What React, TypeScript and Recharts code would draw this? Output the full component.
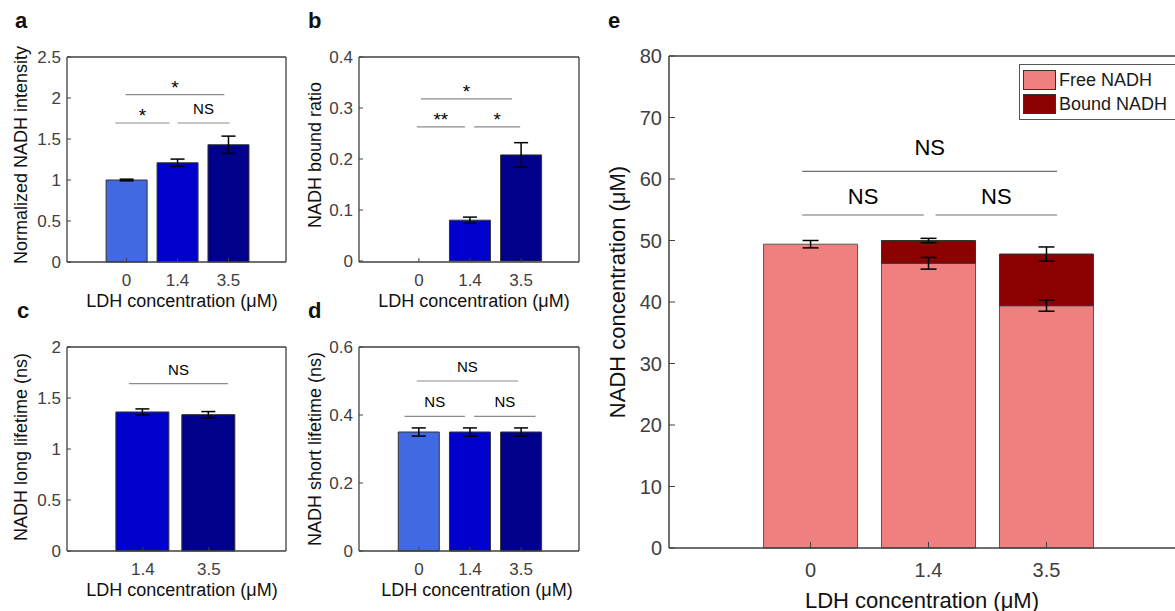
import React from 'react';
import {
  BarChart,
  Bar,
  XAxis,
  YAxis,
  ErrorBar,
  Cell,
  ReferenceLine,
  Legend,
} from 'recharts';

// LDH concentration categories (µM)
const concLabels = ['0', '1.4', '3.5'];
const concLabelsNoZero = ['1.4', '3.5'];

// panel a: normalized NADH intensity
const intensity = [1.0, 1.21, 1.43];
const intensityErr = [0.01, 0.045, 0.105];

// panel b: NADH bound ratio
const boundRatio = [0, 0.08, 0.208];
const boundRatioErr = [0.002, 0.006, 0.024];

// panel c: NADH long lifetime (ns), no 0 µM bar
const longLifetime = [1.363, 1.337];
const longLifetimeErr = [0.03, 0.03];

// panel d: NADH short lifetime (ns)
const shortLifetime = [0.35, 0.35, 0.35];
const shortLifetimeErr = [0.012, 0.012, 0.012];

// panel e: stacked free / bound NADH (µM)
const seriesNames = ['Free NADH', 'Bound NADH'];
const freeNadh = [49.4, 46.3, 39.4];
const freeNadhErr = [0.6, 0.95, 0.9];
const boundNadh = [0, 3.7, 8.4];
const totalNadhErr = [0, 0.35, 1.15];

const yTicksA = [0, 0.5, 1, 1.5, 2, 2.5];
const yTicksB = [0, 0.1, 0.2, 0.3, 0.4];
const yTicksC = [0, 0.5, 1, 1.5, 2];
const yTicksD = [0, 0.2, 0.4, 0.6];
const yTicksE = [0, 10, 20, 30, 40, 50, 60, 70, 80];

type Bracket = { from: number; to: number; y: number; text: string; level: number };

// significance brackets (x in bar index units, y in data units)
const sigA: Bracket[] = [
  { from: 0.98, to: 2.92, y: 2.04, text: '*', level: 2 },
  { from: 0.78, to: 1.84, y: 1.695, text: '*', level: 1 },
  { from: 2.0, to: 3.02, y: 1.695, text: 'NS', level: 1 },
];
const sigB: Bracket[] = [
  { from: 1.04, to: 2.82, y: 0.318, text: '*', level: 2 },
  { from: 0.96, to: 1.9, y: 0.263, text: '**', level: 1 },
  { from: 2.08, to: 2.98, y: 0.263, text: '*', level: 1 },
];
const sigC: Bracket[] = [{ from: 0.79, to: 2.29, y: 1.64, text: 'NS', level: 1 }];
const sigD: Bracket[] = [
  { from: 0.96, to: 2.94, y: 0.5, text: 'NS', level: 2 },
  { from: 0.72, to: 1.9, y: 0.396, text: 'NS', level: 1 },
  { from: 2.08, to: 3.28, y: 0.396, text: 'NS', level: 1 },
];
const sigE: Bracket[] = [
  { from: 0.93, to: 3.09, y: 61.25, text: 'NS', level: 2 },
  { from: 0.93, to: 1.96, y: 54.15, text: 'NS', level: 1 },
  { from: 2.06, to: 3.09, y: 54.15, text: 'NS', level: 1 },
];

const blues = ['#4169E1', '#0000CD', '#00008B'];
const FREE = '#F08080';
const BOUND = '#8B0000';
const AX = '#404040';
const FONT = '"Liberation Sans", Arial, Helvetica, sans-serif';

const Y_AXIS_W = 40;
const X_AXIS_H = 30;
const BOX_AXIS = 1; // size of the top / right frame axes

type Frame = { x: number; y: number; w: number; h: number };
type Box = { l: number; t: number; r: number; b: number };

const marginsFor = (f: Frame, b: Box) => ({
  left: b.l - f.x - Y_AXIS_W,
  top: b.t - f.y - BOX_AXIS,
  right: f.x + f.w - b.r - BOX_AXIS,
  bottom: f.y + f.h - b.b - X_AXIS_H,
});

const bracketLines = (
  list: Bracket[],
  fontSize: (b: Bracket) => number,
  offsetOf: (b: Bracket) => number,
  color: string
) =>
  list.map((br, i) => (
    <ReferenceLine
      key={`br${i}`}
      segment={[
        { x: br.from, y: br.y },
        { x: br.to, y: br.y },
      ]}
      stroke={color}
      strokeWidth={1.2}
      ifOverflow="visible"
      label={{ value: br.text, position: 'top', offset: offsetOf(br), fill: '#000', fontSize: fontSize(br) }}
    />
  ));

interface SmallPanelProps {
  frame: Frame;
  box: Box;
  values: number[];
  errors: number[];
  labels: string[];
  colors: string[];
  xDomain: [number, number];
  yTicks: number[];
  brackets: Bracket[];
}

const SmallPanel: React.FC<SmallPanelProps> = ({ frame, box, values, errors, labels, colors, xDomain, yTicks, brackets }) => {
  const rows = values.map((v, i) => ({ x: i + 1, v, e: errors[i] }));
  const xTicks = labels.map((_, i) => i + 1);
  const yDomain: [number, number] = [yTicks[0], yTicks[yTicks.length - 1]];
  const unit = (box.r - box.l) / (xDomain[1] - xDomain[0]);

  return (
    <div style={{ position: 'absolute', left: frame.x, top: frame.y }}>
      <BarChart width={frame.w} height={frame.h} data={rows} margin={marginsFor(frame, box)}>
        <XAxis
          dataKey="x"
          type="number"
          domain={xDomain}
          ticks={xTicks}
          tickFormatter={(v: number) => labels[v - 1]}
          height={X_AXIS_H}
          tickSize={-4}
          tickMargin={16}
          axisLine={{ stroke: AX, strokeWidth: 1.3 }}
          tickLine={{ stroke: AX }}
          tick={{ fill: AX, fontSize: 17 }}
        />
        <XAxis
          xAxisId="top"
          orientation="top"
          dataKey="x"
          type="number"
          domain={xDomain}
          ticks={xTicks}
          height={BOX_AXIS}
          tick={false}
          tickSize={-4}
          axisLine={{ stroke: AX, strokeWidth: 1.3 }}
          tickLine={{ stroke: AX }}
        />
        <YAxis
          type="number"
          domain={yDomain}
          ticks={yTicks}
          width={Y_AXIS_W}
          tickSize={-4}
          tickMargin={10}
          axisLine={{ stroke: AX, strokeWidth: 1.3 }}
          tickLine={{ stroke: AX }}
          tick={{ fill: AX, fontSize: 17 }}
        />
        <YAxis
          yAxisId="right"
          orientation="right"
          type="number"
          domain={yDomain}
          ticks={yTicks}
          width={BOX_AXIS}
          tick={false}
          tickSize={-4}
          axisLine={{ stroke: AX, strokeWidth: 1.3 }}
          tickLine={{ stroke: AX }}
        />
        <Bar dataKey="v" barSize={Math.round(unit * 0.8)} stroke="#333" strokeWidth={1} isAnimationActive={false}>
          {rows.map((_, i) => (
            <Cell key={i} fill={colors[i]} />
          ))}
          <ErrorBar dataKey="e" width={7} stroke="#000" strokeWidth={1.5} />
        </Bar>
        {bracketLines(
          brackets,
          (b) => (b.text.includes('*') ? 19 : 15),
          (b) => (b.text.includes('*') ? 1 : 9),
          '#8c8c8c'
        )}
      </BarChart>
    </div>
  );
};

const renderLegend = (props: any) => {
  const items = [...(props.payload || [])].sort(
    (a: any, b: any) => seriesNames.indexOf(a.value) - seriesNames.indexOf(b.value)
  );
  return (
    <div
      style={{
        border: '1.5px solid #555',
        background: '#fff',
        padding: '3px 0 3px 3px',
        boxSizing: 'border-box',
        width: 160,
        fontFamily: FONT,
      }}
    >
      {items.map((p: any) => (
        <div key={p.value} style={{ display: 'flex', alignItems: 'center', height: 24 }}>
          <span
            style={{
              display: 'inline-block',
              width: 31,
              height: 18,
              background: p.color,
              border: '1px solid #333',
            }}
          />
          <span style={{ marginLeft: 3, fontSize: 18, color: '#1a1a1a' }}>{p.value}</span>
        </div>
      ))}
    </div>
  );
};

const PanelE: React.FC = () => {
  const frame: Frame = { x: 590, y: 0, w: 610, h: 611 };
  const box: Box = { l: 669, t: 56, r: 1188, b: 548 };
  const xDomain: [number, number] = [-0.2, 4.2];
  const unit = (box.r - box.l) / (xDomain[1] - xDomain[0]);
  const rows = concLabels.map((_, i) => ({
    x: i + 1,
    free: freeNadh[i],
    bound: boundNadh[i],
    freeErr: freeNadhErr[i],
    totalErr: totalNadhErr[i],
  }));
  const xTicks = concLabels.map((_, i) => i + 1);
  const yDomain: [number, number] = [0, 80];

  return (
    <div style={{ position: 'absolute', left: frame.x, top: frame.y }}>
      <BarChart width={frame.w} height={frame.h} data={rows} margin={marginsFor(frame, box)}>
        <XAxis
          dataKey="x"
          type="number"
          domain={xDomain}
          ticks={xTicks}
          tickFormatter={(v: number) => concLabels[v - 1]}
          height={X_AXIS_H}
          tickSize={-6}
          tickMargin={21}
          axisLine={{ stroke: AX, strokeWidth: 1.5 }}
          tickLine={{ stroke: AX }}
          tick={{ fill: AX, fontSize: 20 }}
        />
        <XAxis
          xAxisId="top"
          orientation="top"
          dataKey="x"
          type="number"
          domain={xDomain}
          ticks={xTicks}
          height={BOX_AXIS}
          tick={false}
          tickSize={-6}
          axisLine={{ stroke: AX, strokeWidth: 1.5 }}
          tickLine={{ stroke: AX }}
        />
        <YAxis
          type="number"
          domain={yDomain}
          ticks={yTicksE}
          width={Y_AXIS_W}
          tickSize={-6}
          tickMargin={13}
          axisLine={{ stroke: AX, strokeWidth: 1.5 }}
          tickLine={{ stroke: AX }}
          tick={{ fill: AX, fontSize: 20 }}
        />
        <YAxis
          yAxisId="right"
          orientation="right"
          type="number"
          domain={yDomain}
          ticks={yTicksE}
          width={BOX_AXIS}
          tick={false}
          tickSize={-6}
          axisLine={{ stroke: AX, strokeWidth: 1.5 }}
          tickLine={{ stroke: AX }}
        />
        <Legend
          layout="vertical"
          align="center"
          verticalAlign="middle"
          content={renderLegend}
          wrapperStyle={{ position: 'absolute', left: 429, top: 64, width: 160 }}
        />
        <Bar
          dataKey="free"
          name={seriesNames[0]}
          stackId="nadh"
          fill={FREE}
          stroke="#555"
          strokeWidth={1}
          barSize={Math.round(unit * 0.8)}
          isAnimationActive={false}
        >
          <ErrorBar dataKey="freeErr" width={8} stroke="#000" strokeWidth={1.5} />
        </Bar>
        <Bar
          dataKey="bound"
          name={seriesNames[1]}
          stackId="nadh"
          fill={BOUND}
          stroke="#333"
          strokeWidth={1}
          barSize={Math.round(unit * 0.8)}
          isAnimationActive={false}
        >
          <ErrorBar dataKey="totalErr" width={8} stroke="#000" strokeWidth={1.5} />
        </Bar>
        {bracketLines(sigE, () => 22, (b) => (b.level === 2 ? 16 : 11), '#6e6e6e')}
      </BarChart>
    </div>
  );
};

// axis titles and panel letters
const titles = [
  { text: 'a', x: 15, y: 28, size: 22, bold: true, rot: false },
  { text: 'b', x: 308, y: 28, size: 22, bold: true, rot: false },
  { text: 'c', x: 17, y: 318, size: 22, bold: true, rot: false },
  { text: 'd', x: 308, y: 318, size: 22, bold: true, rot: false },
  { text: 'e', x: 608, y: 28, size: 22, bold: true, rot: false },
  { text: 'Normalized NADH intensity', x: 21, y: 155, size: 18, bold: false, rot: true },
  { text: 'NADH bound ratio', x: 315, y: 155, size: 18, bold: false, rot: true },
  { text: 'NADH long lifetime (ns)', x: 21, y: 447, size: 18, bold: false, rot: true },
  { text: 'NADH short lifetime (ns)', x: 315, y: 449, size: 18, bold: false, rot: true },
  { text: 'NADH concentration (μM)', x: 617, y: 292, size: 22, bold: false, rot: true },
  { text: 'LDH concentration (μM)', x: 182, y: 301, size: 18, bold: false, rot: false, mid: true },
  { text: 'LDH concentration (μM)', x: 474, y: 301, size: 18, bold: false, rot: false, mid: true },
  { text: 'LDH concentration (μM)', x: 182, y: 590, size: 18, bold: false, rot: false, mid: true },
  { text: 'LDH concentration (μM)', x: 477, y: 590, size: 18, bold: false, rot: false, mid: true },
  { text: 'LDH concentration (μM)', x: 922, y: 600, size: 22, bold: false, rot: false, mid: true },
];

const App: React.FC = () => {
  return (
    <div
      style={{
        position: 'absolute',
        left: 0,
        top: 0,
        width: 1175,
        height: 611,
        overflow: 'hidden',
        background: '#fff',
        fontFamily: FONT,
      }}
    >
      <SmallPanel
        frame={{ x: 0, y: 0, w: 295, h: 295 }}
        box={{ l: 67, t: 57, r: 286, b: 262 }}
        values={intensity}
        errors={intensityErr}
        labels={concLabels}
        colors={blues}
        xDomain={[-0.17, 4.13]}
        yTicks={yTicksA}
        brackets={sigA}
      />
      <SmallPanel
        frame={{ x: 295, y: 0, w: 295, h: 295 }}
        box={{ l: 359, t: 57, r: 579, b: 262 }}
        values={boundRatio}
        errors={boundRatioErr}
        labels={concLabels}
        colors={blues}
        xDomain={[-0.17, 4.13]}
        yTicks={yTicksB}
        brackets={sigB}
      />
      <SmallPanel
        frame={{ x: 0, y: 310, w: 295, h: 270 }}
        box={{ l: 67, t: 347, r: 286, b: 551 }}
        values={longLifetime}
        errors={longLifetimeErr}
        labels={concLabelsNoZero}
        colors={[blues[1], blues[2]]}
        xDomain={[-0.15, 3.17]}
        yTicks={yTicksC}
        brackets={sigC}
      />
      <SmallPanel
        frame={{ x: 295, y: 310, w: 295, h: 270 }}
        box={{ l: 359, t: 347, r: 579, b: 551 }}
        values={shortLifetime}
        errors={shortLifetimeErr}
        labels={concLabels}
        colors={blues}
        xDomain={[-0.17, 4.13]}
        yTicks={yTicksD}
        brackets={sigD}
      />
      <PanelE />
      <svg
        width={1175}
        height={611}
        style={{ position: 'absolute', left: 0, top: 0, pointerEvents: 'none' }}
      >
        {titles.map((t, i) =>
          t.rot ? (
            <text
              key={i}
              x={t.x}
              y={t.y}
              fontSize={t.size}
              fill="#111"
              textAnchor="middle"
              dominantBaseline="central"
              transform={`rotate(-90 ${t.x} ${t.y})`}
            >
              {t.text}
            </text>
          ) : (
            <text
              key={i}
              x={t.x}
              y={t.y}
              fontSize={t.size}
              fontWeight={t.bold ? 'bold' : 'normal'}
              fill="#111"
              textAnchor={(t as any).mid ? 'middle' : 'start'}
              dominantBaseline={(t as any).mid ? 'central' : 'auto'}
            >
              {t.text}
            </text>
          )
        )}
      </svg>
    </div>
  );
};

export default App;
